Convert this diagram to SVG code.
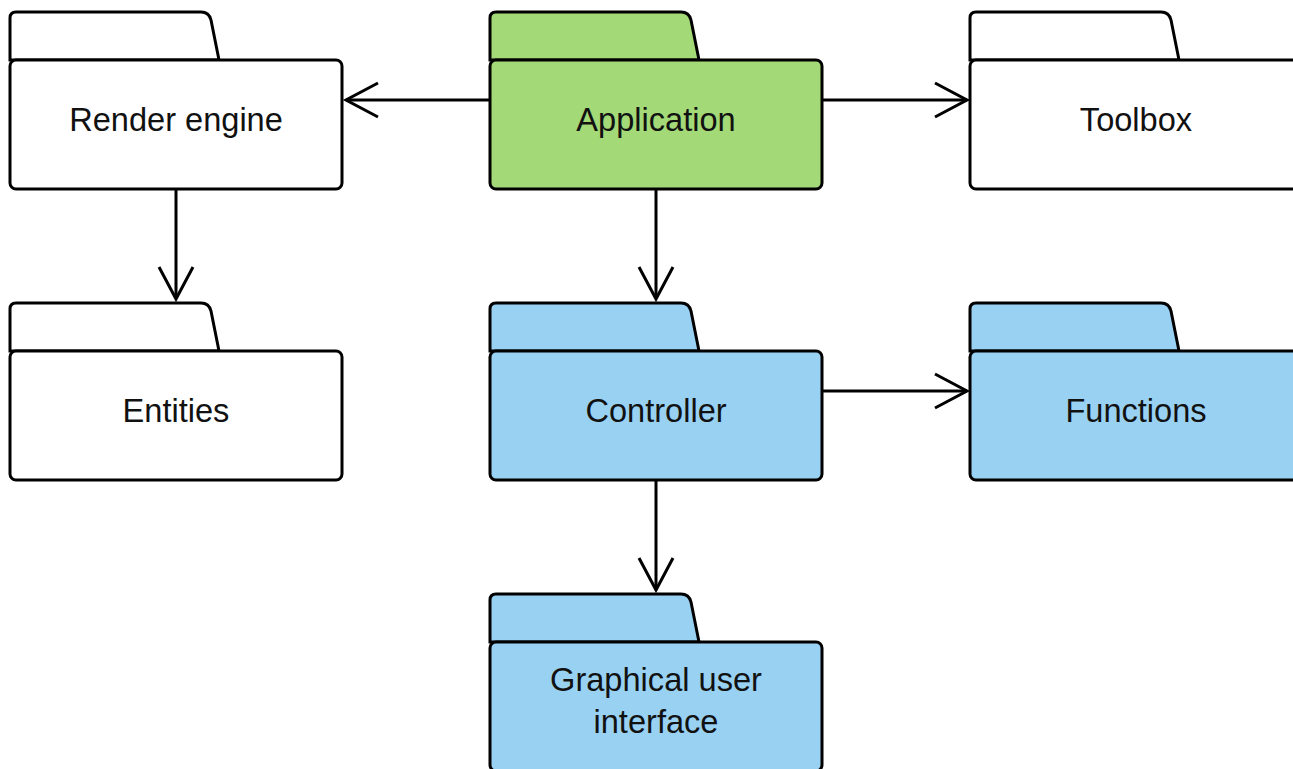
<svg xmlns="http://www.w3.org/2000/svg" width="1293" height="769" viewBox="0 0 1293 769">
  <style>
    .pkg path, .pkg rect { stroke: #000; stroke-width: 3; stroke-linejoin: round; }
    .plain { fill: #ffffff; }
    .green { fill: #a3d977; }
    .blue { fill: #99d1f3; }
    .label { font-family: "Liberation Sans", Arial, sans-serif; font-size: 32.6px; fill: #111; text-anchor: middle; }
    .edge { fill: none; stroke: #000; stroke-width: 3; }
  </style>
  <defs>
    <marker id="open" markerUnits="userSpaceOnUse" markerWidth="40" markerHeight="40" viewBox="-36 -20 40 40" refX="0" refY="0" orient="auto" overflow="visible">
      <path d="M -32,-17 L 0,0 L -32,17" fill="none" stroke="#000" stroke-width="3" stroke-linejoin="miter"/>
    </marker>
    <!-- folder tab, positioned per node -->
    <path id="tab" d="M 0,48 V 6 Q 0,0 6,0 H 191 Q 199,0 201,8 L 209,48 Z"/>
  </defs>

  <g id="connectors">
    <path class="edge" d="M 490,100 H 346" marker-end="url(#open)"/>
    <path class="edge" d="M 822,100 H 967" marker-end="url(#open)"/>
    <path class="edge" d="M 176,189 V 299" marker-end="url(#open)"/>
    <path class="edge" d="M 656,189 V 299" marker-end="url(#open)"/>
    <path class="edge" d="M 822,391 H 967" marker-end="url(#open)"/>
    <path class="edge" d="M 656,480 V 590" marker-end="url(#open)"/>
  </g>

  <g id="render-engine" class="pkg">
    <use href="#tab" x="10" y="12" class="plain" stroke="#000" stroke-width="3"/>
    <rect class="plain" x="10" y="60" width="332" height="129" rx="6"/>
    <text class="label" x="176" y="131">Render engine</text>
  </g>

  <g id="application" class="pkg">
    <use href="#tab" x="490" y="12" class="green" stroke="#000" stroke-width="3"/>
    <rect class="green" x="490" y="60" width="332" height="129" rx="6"/>
    <text class="label" x="656" y="131">Application</text>
  </g>

  <g id="toolbox" class="pkg">
    <use href="#tab" x="970" y="12" class="plain" stroke="#000" stroke-width="3"/>
    <rect class="plain" x="970" y="60" width="332" height="129" rx="6"/>
    <text class="label" x="1136" y="131">Toolbox</text>
  </g>

  <g id="entities" class="pkg">
    <use href="#tab" x="10" y="303" class="plain" stroke="#000" stroke-width="3"/>
    <rect class="plain" x="10" y="351" width="332" height="129" rx="6"/>
    <text class="label" x="176" y="422">Entities</text>
  </g>

  <g id="controller" class="pkg">
    <use href="#tab" x="490" y="303" class="blue" stroke="#000" stroke-width="3"/>
    <rect class="blue" x="490" y="351" width="332" height="129" rx="6"/>
    <text class="label" x="656" y="422">Controller</text>
  </g>

  <g id="functions" class="pkg">
    <use href="#tab" x="970" y="303" class="blue" stroke="#000" stroke-width="3"/>
    <rect class="blue" x="970" y="351" width="332" height="129" rx="6"/>
    <text class="label" x="1136" y="422">Functions</text>
  </g>

  <g id="gui" class="pkg">
    <use href="#tab" x="490" y="594" class="blue" stroke="#000" stroke-width="3"/>
    <rect class="blue" x="490" y="642" width="332" height="129" rx="6"/>
    <text class="label" x="656" y="691">Graphical user</text>
    <text class="label" x="656" y="733">interface</text>
  </g>
</svg>
